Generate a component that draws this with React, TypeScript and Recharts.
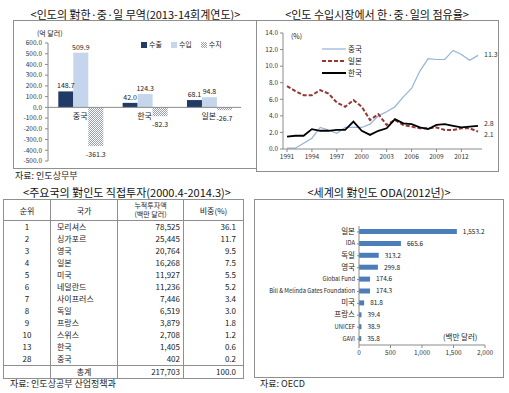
import React from 'react';
import { BarChart, Bar, XAxis, YAxis, LineChart, Line, LabelList, ReferenceLine } from 'recharts';

const FONT = '"Noto Sans CJK KR", "Noto Sans", sans-serif';

// ---------- Panel 1: 인도의 對한·중·일 무역 ----------
const tradeCategories = ['중국', '한국', '일본'];
const tradeExport = [148.7, 42.0, 68.1];
const tradeImport = [509.9, 124.3, 94.8];
const tradeBalance = [-361.3, -82.3, -26.7];
const tradeTicks = [600, 500, 400, 300, 200, 100, 0, -100, -200, -300, -400, -500];
const tradeSeriesNames = ['수출', '수입', '수지'];

// ---------- Panel 2: 인도 수입시장 점유율 ----------
const shareYears = [1991, 1992, 1993, 1994, 1995, 1996, 1997, 1998, 1999, 2000, 2001, 2002, 2003, 2004, 2005, 2006, 2007, 2008, 2009, 2010, 2011, 2012, 2013, 2014];
const shareChina = [0.1, 0.1, 0.7, 1.3, 2.6, 2.3, 1.9, 2.6, 2.6, 2.6, 3.0, 4.0, 4.5, 5.1, 6.3, 7.3, 9.4, 10.9, 10.8, 10.8, 11.9, 11.4, 10.7, 11.3];
const shareJapan = [7.6, 7.0, 6.5, 6.5, 7.1, 6.7, 5.6, 5.1, 5.9, 5.1, 3.5, 4.2, 2.9, 3.5, 2.9, 2.7, 2.5, 2.5, 2.6, 2.3, 2.3, 2.5, 2.5, 2.1];
const shareKorea = [1.5, 1.6, 1.6, 2.4, 2.2, 2.2, 2.3, 2.3, 3.3, 2.2, 1.7, 2.2, 2.5, 3.6, 3.1, 3.0, 2.6, 2.4, 2.9, 3.0, 2.8, 2.6, 2.7, 2.8];
const shareTicks = [0, 2, 4, 6, 8, 10, 12, 14];
const shareSeriesNames = ['중국', '일본', '한국'];

// ---------- Panel 3: 주요국의 對인도 직접투자 ----------
const fdiRanks = [1, 2, 3, 4, 5, 6, 7, 8, 9, 10, 13, 28];
const fdiCountries = ['모리셔스', '싱가포르', '영국', '일본', '미국', '네덜란드', '사이프러스', '독일', '프랑스', '스위스', '한국', '중국'];
const fdiAmounts = [78525, 25445, 20764, 16268, 11927, 11236, 7446, 6519, 3879, 2708, 1405, 402];
const fdiShares = [36.1, 11.7, 9.5, 7.5, 5.5, 5.2, 3.4, 3.0, 1.8, 1.2, 0.6, 0.2];
const fdiTotalAmount = 217703;
const fdiTotalShare = 100.0;

// ---------- Panel 4: 세계의 對인도 ODA ----------
const odaDonors = ['일본', 'IDA', '독일', '영국', 'Global Fund', 'Bill & Melinda Gates Foundation', '미국', '프랑스', 'UNICEF', 'GAVI'];
const odaValues = [1553.2, 665.6, 313.2, 299.8, 174.6, 174.3, 81.8, 39.4, 38.9, 35.8];
const odaTicks = [0, 500, 1000, 1500, 2000];

const tradeData = tradeCategories.map((name, i) => ({ name, exp: tradeExport[i], imp: tradeImport[i], bal: tradeBalance[i] }));
const shareData = shareYears.map((year, i) => ({ year, china: shareChina[i], japan: shareJapan[i], korea: shareKorea[i] }));
const odaData = odaDonors.map((donor, i) => ({ donor, value: odaValues[i] }));

const C_EXP = '#1F3B66';
const C_IMP = '#C5D6EC';
const C_CHINA = '#95B3D7';
const C_JAPAN = '#953735';
const C_KOREA = '#000000';
const C_ODA = '#4A7DBA';
const AXIS = '#8a8a8a';
const BORDER = '#8f8f8f';

const abs = (l: number, t: number, extra: React.CSSProperties = {}): React.CSSProperties => ({ position: 'absolute', left: l, top: t, ...extra });

const Title = ({ x, y, w, text }: { x: number; y: number; w: number; text: string }) => (
  <div style={abs(x, y, { width: w, textAlign: 'center', fontSize: 11, lineHeight: '14px', fontFamily: FONT, color: '#111', whiteSpace: 'nowrap', letterSpacing: 0 })}>{text}</div>
);
const Note = ({ x, y, text, size = 9 }: { x: number; y: number; text: string; size?: number }) => (
  <div style={abs(x, y, { fontSize: size, lineHeight: '12px', fontFamily: FONT, color: '#222', whiteSpace: 'nowrap' })}>{text}</div>
);
const Box = ({ x, y, w, h }: { x: number; y: number; w: number; h: number }) => (
  <div style={abs(x, y, { width: w, height: h, border: `1px solid ${BORDER}`, boxSizing: 'border-box', pointerEvents: 'none' })} />
);

// trade chart geometry
const T_W = 243, T_H = 148, T_MT = 23, T_MB = 6, T_XH = 1;
const T_PLOT_H = T_H - T_MT - T_MB - T_XH;
const T_ZERO_Y = T_MT + T_PLOT_H * (tradeTicks[0] / (tradeTicks[0] - tradeTicks[tradeTicks.length - 1]));

const TradeCatTick = (props: any) => {
  const { x, payload } = props;
  return (
    <text x={x} y={T_ZERO_Y + 12} textAnchor="middle" fontSize={8} fontFamily={FONT} fill="#222">{payload.value}</text>
  );
};

const BalanceLabel = (props: any) => {
  const { x, y, width, height, value } = props;
  const bottom = Math.max(y, y + height);
  return (
    <text x={x + width / 2} y={bottom + 11} textAnchor="middle" fontSize={7} fontFamily={FONT} fill="#222">{Number(value).toFixed(1)}</text>
  );
};

const EndLabel = (last: number, dy: number) => (props: any) => {
  const { x, y, index, value } = props;
  if (index !== last) return null;
  return (
    <text x={x + 6} y={y + dy} fontSize={7} fontFamily={FONT} fill="#333" dominantBaseline="middle">{Number(value).toFixed(1)}</text>
  );
};

const OdaTick = (props: any) => {
  const { x, y, payload } = props;
  const v: string = payload.value;
  const korean = /[\uac00-\ud7a3]/.test(v);
  return (
    <text x={x} y={y} textAnchor="end" dominantBaseline="middle" fontSize={korean ? 7.5 : 5.8} fontFamily={FONT} fill="#222">{v}</text>
  );
};

const swatch = (fill: string) => (
  <svg width={6} height={6} style={{ marginRight: 2, verticalAlign: 'middle' }}>
    <defs>
      <pattern id="hatchSmall" width="2" height="2" patternUnits="userSpaceOnUse">
        <rect width="2" height="2" fill="#fff" />
        <rect width="1" height="1" fill="#98a0b0" />
        <rect x="1" y="1" width="1" height="1" fill="#98a0b0" />
      </pattern>
    </defs>
    <rect width={6} height={6} fill={fill} />
  </svg>
);

export default function App() {
  const lastIdx = shareYears.length - 1;
  const cell: React.CSSProperties = { lineHeight: '12px', padding: 0, whiteSpace: 'nowrap' };
  return (
    <div style={abs(0, 0, { width: 509, height: 393, background: '#fff', overflow: 'hidden', fontFamily: FONT })}>
      {/* ---------- Panel 1 ---------- */}
      <Title x={13} y={7} w={245} text="<인도의 對한·중·일 무역(2013-14회계연도)>" />
      <div style={abs(13, 20)}>
        <BarChart width={T_W} height={T_H} data={tradeData} margin={{ top: T_MT, right: 15, bottom: T_MB, left: 0 }} barCategoryGap="16%" barGap={0}>
          <defs>
            <pattern id="hatch" width="2" height="2" patternUnits="userSpaceOnUse">
              <rect width="2" height="2" fill="#fff" />
              <rect width="1" height="1" fill="#98a0b0" />
              <rect x="1" y="1" width="1" height="1" fill="#98a0b0" />
            </pattern>
          </defs>
          <XAxis dataKey="name" height={T_XH} axisLine={false} tickLine={false} tick={<TradeCatTick />} interval={0} />
          <YAxis width={35} domain={[tradeTicks[tradeTicks.length - 1], tradeTicks[0]]} ticks={tradeTicks} interval={0}
            tickFormatter={(v: number) => v.toFixed(1)} tick={{ fontSize: 6.5, fill: '#333', fontFamily: FONT }}
            axisLine={{ stroke: AXIS }} tickLine={{ stroke: AXIS }} tickSize={3} tickMargin={3} />
          <ReferenceLine y={0} stroke={AXIS} />
          <Bar dataKey="exp" fill={C_EXP} isAnimationActive={false}>
            <LabelList dataKey="exp" position="top" offset={3} formatter={(v: number) => v.toFixed(1)} style={{ fontSize: 7, fontFamily: FONT, fill: '#222' }} />
          </Bar>
          <Bar dataKey="imp" fill={C_IMP} isAnimationActive={false}>
            <LabelList dataKey="imp" position="top" offset={3} formatter={(v: number) => v.toFixed(1)} style={{ fontSize: 7, fontFamily: FONT, fill: '#222' }} />
          </Bar>
          <Bar dataKey="bal" fill="url(#hatch)" isAnimationActive={false}>
            <LabelList dataKey="bal" content={<BalanceLabel />} />
          </Bar>
        </BarChart>
      </div>
      <Box x={13} y={20} w={244} h={149} />
      <Note x={37} y={27} text="(억 달러)" size={7} />
      <div style={abs(141, 39, { display: 'flex', gap: 9, fontSize: 7, fontFamily: FONT, color: '#222', lineHeight: '10px' })}>
        <span>{swatch(C_EXP)}{tradeSeriesNames[0]}</span>
        <span>{swatch(C_IMP)}{tradeSeriesNames[1]}</span>
        <span>{swatch('url(#hatchSmall)')}{tradeSeriesNames[2]}</span>
      </div>
      <Note x={15} y={170} text="자료: 인도상무부" />

      {/* ---------- Panel 2 ---------- */}
      <Title x={256} y={7} w={242} text="<인도 수입시장에서 한·중·일의 점유율>" />
      <div style={abs(256, 20)}>
        <LineChart width={242} height={151} data={shareData} margin={{ top: 13, right: 16, bottom: 0, left: 0 }}>
          <XAxis dataKey="year" height={22} interval={2} padding={{ left: 4, right: 4 }}
            tick={{ fontSize: 6.5, fill: '#333', fontFamily: FONT }} axisLine={{ stroke: AXIS }} tickLine={{ stroke: AXIS }} tickSize={3} tickMargin={2} />
          <YAxis width={27} domain={[0, 14]} ticks={shareTicks} interval={0} tickFormatter={(v: number) => v.toFixed(1)}
            tick={{ fontSize: 6.5, fill: '#333', fontFamily: FONT }} axisLine={{ stroke: AXIS }} tickLine={{ stroke: AXIS }} tickSize={3} tickMargin={2} />
          <Line dataKey="china" stroke={C_CHINA} strokeWidth={1.2} dot={false} isAnimationActive={false}>
            <LabelList dataKey="china" content={EndLabel(lastIdx, 0)} />
          </Line>
          <Line dataKey="japan" stroke={C_JAPAN} strokeWidth={2} strokeDasharray="4 2" dot={false} isAnimationActive={false}>
            <LabelList dataKey="japan" content={EndLabel(lastIdx, 3)} />
          </Line>
          <Line dataKey="korea" stroke={C_KOREA} strokeWidth={1.8} dot={false} isAnimationActive={false}>
            <LabelList dataKey="korea" content={EndLabel(lastIdx, -1.5)} />
          </Line>
        </LineChart>
      </div>
      <Box x={256} y={20} w={243} h={152} />
      <Note x={291} y={30} text="(%)" size={7} />
      <div style={abs(322, 43, { fontSize: 7.5, fontFamily: FONT, color: '#222', lineHeight: '12px' })}>
        {[C_CHINA, C_JAPAN, C_KOREA].map((c, i) => (
          <div key={i} style={{ display: 'flex', alignItems: 'center', height: 12 }}>
            <svg width={24} height={4} style={{ marginRight: 2 }}>
              <line x1={0} y1={2} x2={24} y2={2} stroke={c} strokeWidth={i === 0 ? 1.2 : 2} strokeDasharray={i === 1 ? '4 2' : undefined} />
            </svg>
            {shareSeriesNames[i]}
          </div>
        ))}
      </div>

      {/* ---------- Panel 3 ---------- */}
      <Title x={3} y={185} w={248} text="<주요국의 對인도 직접투자(2000.4-2014.3)>" />
      <table style={abs(3, 199, { width: 240, borderCollapse: 'collapse', fontSize: 8, fontFamily: FONT, color: '#222', border: `1px solid ${BORDER}`, tableLayout: 'fixed' })}>
        <colgroup><col style={{ width: 47 }} /><col style={{ width: 67 }} /><col style={{ width: 66 }} /><col style={{ width: 60 }} /></colgroup>
        <thead>
          <tr style={{ height: 21, borderBottom: `1px solid ${BORDER}` }}>
            <th style={{ fontWeight: 'normal', borderRight: `1px solid ${BORDER}`, padding: 0 }}>순위</th>
            <th style={{ fontWeight: 'normal', borderRight: `1px solid ${BORDER}`, padding: 0 }}>국가</th>
            <th style={{ fontWeight: 'normal', borderRight: `1px solid ${BORDER}`, padding: 0 }}>
              <div style={{ fontSize: 7, lineHeight: '9px' }}>누적투자액</div>
              <div style={{ fontSize: 7, lineHeight: '9px' }}>(백만 달러)</div>
            </th>
            <th style={{ fontWeight: 'normal', padding: 0 }}>비중(%)</th>
          </tr>
        </thead>
        <tbody>
          {fdiRanks.map((r, i) => (
            <tr key={i} style={{ height: 12 }}>
              <td style={{ ...cell, textAlign: 'center', borderRight: `1px solid ${BORDER}` }}>{r}</td>
              <td style={{ ...cell, textAlign: 'left', borderRight: `1px solid ${BORDER}`, paddingLeft: 6 }}>{fdiCountries[i]}</td>
              <td style={{ ...cell, textAlign: 'right', borderRight: `1px solid ${BORDER}`, paddingRight: 3 }}>{fdiAmounts[i].toLocaleString('en-US')}</td>
              <td style={{ ...cell, textAlign: 'right', paddingRight: 7 }}>{fdiShares[i].toFixed(1)}</td>
            </tr>
          ))}
          <tr style={{ height: 13, borderTop: `1px solid ${BORDER}` }}>
            <td style={{ ...cell, borderRight: `1px solid ${BORDER}` }} />
            <td style={{ ...cell, textAlign: 'center', borderRight: `1px solid ${BORDER}` }}>총계</td>
            <td style={{ ...cell, textAlign: 'right', borderRight: `1px solid ${BORDER}`, paddingRight: 3 }}>{fdiTotalAmount.toLocaleString('en-US')}</td>
            <td style={{ ...cell, textAlign: 'right', paddingRight: 7 }}>{fdiTotalShare.toFixed(1)}</td>
          </tr>
        </tbody>
      </table>
      <Note x={10} y={378} text="자료: 인도상공부 산업정책과" />

      {/* ---------- Panel 4 ---------- */}
      <Title x={254} y={185} w={250} text="<세계의 對인도 ODA(2012년)>" />
      <div style={abs(254, 199)}>
        <BarChart layout="vertical" width={250} height={178} data={odaData} margin={{ top: 27, right: 19, bottom: 12, left: 0 }}>
          <XAxis type="number" domain={[0, 2000]} ticks={odaTicks} interval={0} height={20}
            tickFormatter={(v: number) => v.toLocaleString('en-US')}
            tick={{ fontSize: 6.5, fill: '#333', fontFamily: FONT }} axisLine={{ stroke: AXIS }} tickLine={{ stroke: AXIS }} tickSize={3} tickMargin={2} />
          <YAxis type="category" dataKey="donor" width={105} interval={0} tick={<OdaTick />}
            axisLine={{ stroke: AXIS }} tickLine={{ stroke: AXIS }} tickSize={2} tickMargin={2} />
          <Bar dataKey="value" fill={C_ODA} barSize={5} isAnimationActive={false}>
            <LabelList dataKey="value" position="right" offset={6}
              formatter={(v: number) => v.toLocaleString('en-US', { minimumFractionDigits: 1, maximumFractionDigits: 1 })}
              style={{ fontSize: 6.5, fontFamily: FONT, fill: '#222' }} />
          </Bar>
        </BarChart>
      </div>
      <Box x={254} y={199} w={250} h={179} />
      <Note x={443} y={331} text="(백만 달러)" size={7.5} />
      <Note x={260} y={378} text="자료: OECD" />
    </div>
  );
}
